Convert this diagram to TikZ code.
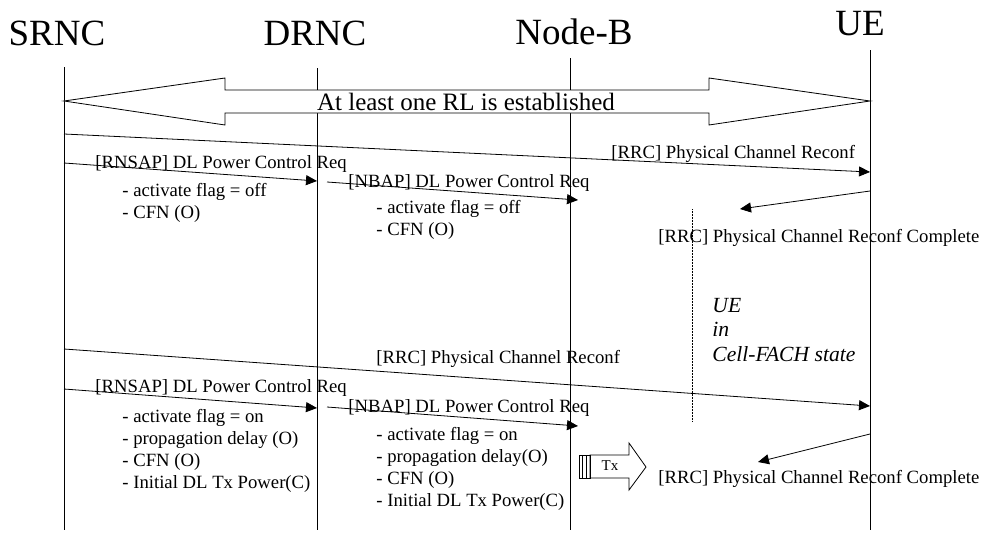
\documentclass[tikz,border=0pt]{standalone}
\usepackage{fontspec}
\setmainfont{Liberation Serif}
\usetikzlibrary{arrows.meta, positioning}

\begin{document}
\begin{tikzpicture}[x=1pt,y=-1pt,line width=0.8pt,>={Triangle[length=11pt,width=10pt]},
    every node/.style={inner sep=0pt},
    entity/.style={font=\fontsize{37}{40}\selectfont,anchor=base},
    msg/.style={->},
    msglabel/.style={font=\fontsize{18.7}{22}\selectfont,anchor=base west},
    params/.style={font=\fontsize{18.7}{22}\selectfont,anchor=north west,align=left}]

      \useasboundingbox (0,0) rectangle (982,533);

      \node[entity] (srnc)  at (57,45)  {SRNC};
      \node[entity] (drnc)  at (315,45) {DRNC};
      \node[entity] (nodeb) at (574,44) {Node-B};
      \node[entity] (ue)    at (860,35) {UE};

      \foreach \n/\x/\t in {srnc/64/67, drnc/317/68, nodeb/570/58, ue/870/50} {
        \coordinate (\n-top) at (\x,\t);
        \coordinate (\n-bot) at (\x,530);
        \draw (\n-top) -- (\n-bot);
      }

      \draw[fill=white] (srnc-top |- 0,101) -- (225,78) -- (225,90) -- (709,90) -- (709,78)
            -- (ue-top |- 0,101) -- (709,125) -- (709,113) -- (225,113) -- (225,125) -- cycle;
      \node[font=\fontsize{25}{28}\selectfont,anchor=base] (rl) at (466,110) {At least one RL is established};

      \coordinate (rrc1-a)   at (64,134);  \coordinate (rrc1-b)   at (870,172);
      \coordinate (rnsap1-a) at (64,163);  \coordinate (rnsap1-b) at (317,181);
      \coordinate (nbap1-a)  at (327,182); \coordinate (nbap1-b)  at (578,200);
      \coordinate (cmp1-a)   at (870,191); \coordinate (cmp1-b)   at (740,209);
      \coordinate (rrc2-a)   at (64,349);  \coordinate (rrc2-b)   at (870,406);
      \coordinate (rnsap2-a) at (64,389);  \coordinate (rnsap2-b) at (317,408);
      \coordinate (nbap2-a)  at (327,407); \coordinate (nbap2-b)  at (578,426);
      \coordinate (cmp2-a)   at (870,434); \coordinate (cmp2-b)   at (758,462);

      \path[msg] (rrc1-a) edge (rrc1-b)
                 (rnsap1-a) edge (rnsap1-b)
                 (nbap1-a) edge (nbap1-b)
                 (cmp1-a) edge (cmp1-b)
                 (rrc2-a) edge (rrc2-b)
                 (rnsap2-a) edge (rnsap2-b)
                 (nbap2-a) edge (nbap2-b)
                 (cmp2-a) edge (cmp2-b);

      \node[msglabel] (rrc1-l)   at (611,158) {[RRC] Physical Channel Reconf};
      \node[msglabel] (rnsap1-l) at (95,168)  {[RNSAP] DL Power Control Req};
      \node[msglabel] (nbap1-l)  at (348,187) {[NBAP] DL Power Control Req};
      \node[msglabel] (cmp1-l)   at (658,242) {[RRC] Physical Channel Reconf Complete};
      \node[msglabel] (rrc2-l)   at (376,363) {[RRC] Physical Channel Reconf};
      \node[msglabel] (rnsap2-l) at (95,392)  {[RNSAP] DL Power Control Req};
      \node[msglabel] (nbap2-l)  at (348,412) {[NBAP] DL Power Control Req};
      \node[msglabel] (cmp2-l)   at (658,483) {[RRC] Physical Channel Reconf Complete};

      \node[params] (rnsap1-p) at (122,183.2) {- activate flag = off\\- CFN (O)};
      \node[params] (nbap1-p)  at (376,200.2) {- activate flag = off\\- CFN (O)};
      \node[params] (rnsap2-p) at (122,409.2) {- activate flag = on\\- propagation delay (O)\\- CFN (O)\\- Initial DL Tx Power(C)};
      \node[params] (nbap2-p)  at (376,427.2) {- activate flag = on\\- propagation delay(O)\\- CFN (O)\\- Initial DL Tx Power(C)};

      \coordinate (fach-top) at (692,209);
      \coordinate (fach-bot) at (692,422);
      \draw[densely dotted,line width=0.5pt] (fach-top) -- (fach-bot);
      \node[font=\itshape\fontsize{21.6}{24.5}\selectfont,anchor=north west,align=left] (fach) at (712,297.7)
            {UE\\in\\Cell-FACH state};

      \draw[fill=white] (590,455) -- (629,455) -- (629,443) -- (646,467) -- (629,490) -- (629,478) -- (590,478) -- cycle;
      \draw[line width=0.6pt] (579,455) rectangle (590,478) (582.7,455) -- (582.7,478) (586.3,455) -- (586.3,478);
      \node[font=\fontsize{15}{18}\selectfont] (tx) at (610,466) {Tx};
\end{tikzpicture}
\end{document}
